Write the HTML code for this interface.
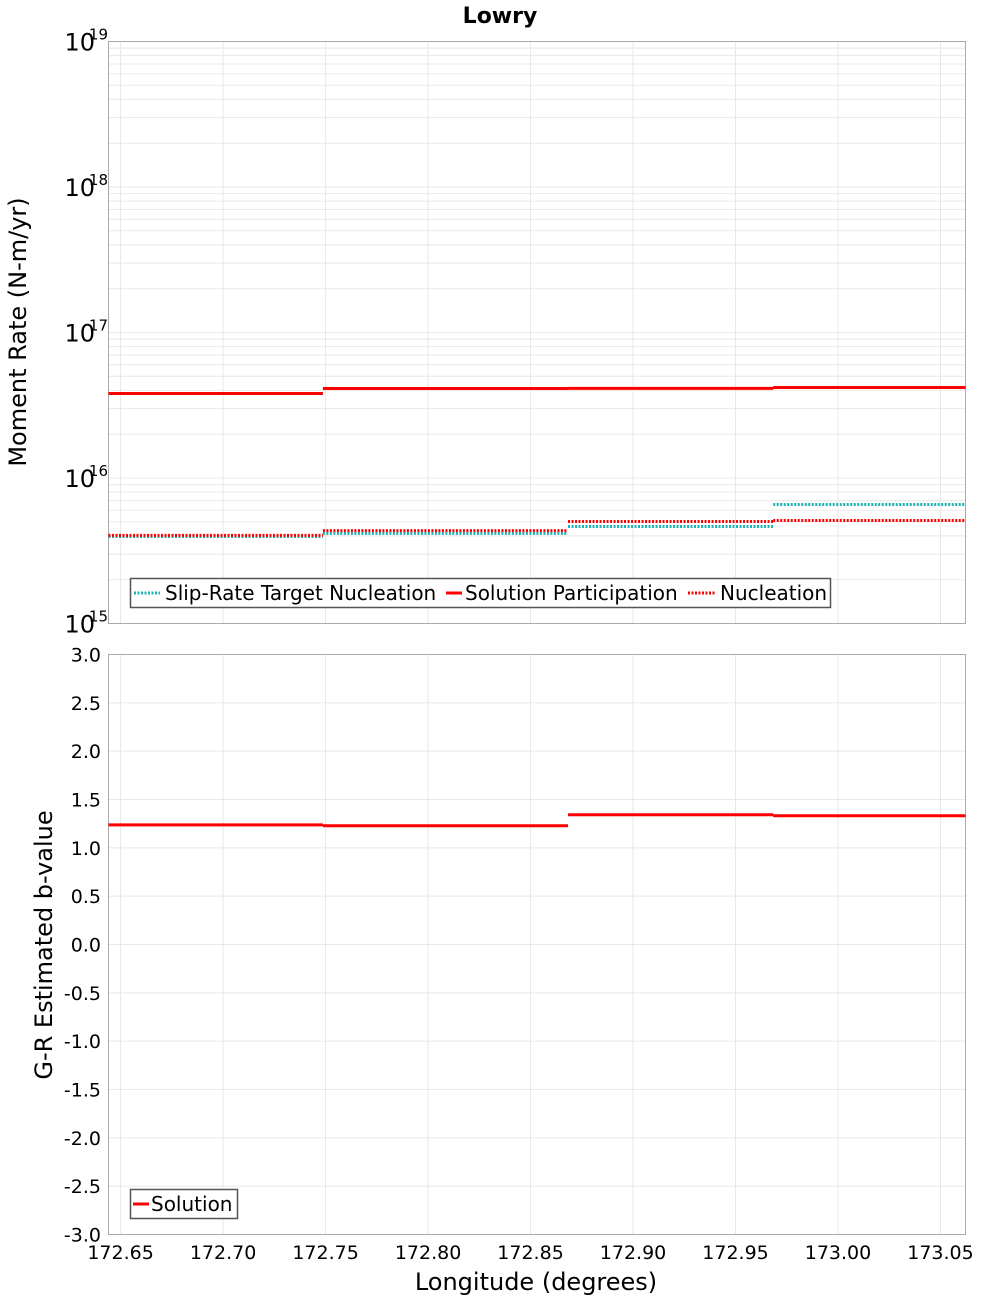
<!DOCTYPE html>
<html><head><meta charset="utf-8"><style>
body{margin:0;background:#fff}
svg{display:block;font-family:"DejaVu Sans","Liberation Sans",sans-serif}
</style></head><body>
<svg id="chart" width="1000" height="1300" viewBox="0 0 1000 1300">
<text x="500" y="23" text-anchor="middle" font-size="22" font-weight="bold">Lowry</text>
<g id="grid1"></g>
<g id="grid2"></g>
<rect x="108.5" y="41.5" width="857" height="582" fill="none" stroke="#aaa"/>
<rect x="108.5" y="654.5" width="857" height="580" fill="none" stroke="#aaa"/>
<g id="series1"></g>
<g id="series2"></g>
<g id="ticks"></g>
<text transform="translate(26,332) rotate(-90)" text-anchor="middle" font-size="24">Moment Rate (N-m/yr)</text>
<text transform="translate(52,945) rotate(-90)" text-anchor="middle" font-size="24">G-R Estimated b-value</text>
<text x="536" y="1290" text-anchor="middle" font-size="24">Longitude (degrees)</text>
<g>
<rect x="130.5" y="578.5" width="700" height="29" fill="#fff" stroke="#555" stroke-width="1.5"/>
<line x1="134" y1="593" x2="160" y2="593" stroke="#1ab3b3" stroke-width="3" stroke-dasharray="2,1.5"/>
<text x="165" y="600" font-size="20">Slip-Rate Target Nucleation</text>
<line x1="446" y1="593" x2="462" y2="593" stroke="#f00" stroke-width="3"/>
<text x="465" y="600" font-size="20">Solution Participation</text>
<line x1="688" y1="593" x2="716" y2="593" stroke="#f00" stroke-width="3" stroke-dasharray="2,1.5"/>
<text x="720" y="600" font-size="20">Nucleation</text>
</g>
<g>
<rect x="130.5" y="1189.5" width="107" height="29" fill="#fff" stroke="#555" stroke-width="1.5"/>
<line x1="133" y1="1204" x2="149" y2="1204" stroke="#f00" stroke-width="3"/>
<text x="151" y="1211" font-size="20">Solution</text>
</g>
</svg>
<script>
const segEdges=[172.6441,172.7487,172.8683,172.9684,173.0622];
const targetNucleation=[3.96e15,4.16e15,4.64e15,6.58e15];
const solutionParticipation=[3.81e16,4.12e16,4.13e16,4.19e16];
const nucleation=[4.03e15,4.35e15,5.02e15,5.1e15];
const bValues=[1.238,1.228,1.342,1.332];
const xTicks=[172.65,172.70,172.75,172.80,172.85,172.90,172.95,173.00,173.05];
const yLogTicks=[15,16,17,18,19];
const bTicks=[3.0,2.5,2.0,1.5,1.0,0.5,0.0,-0.5,-1.0,-1.5,-2.0,-2.5,-3.0];
const NS='http://www.w3.org/2000/svg';
const X0=108.5,X1=965.5,XMIN=segEdges[0],XMAX=segEdges[segEdges.length-1];
const xs=v=>X0+(v-XMIN)/(XMAX-XMIN)*(X1-X0);
const ly=v=>623.5-(Math.log10(v)-15)/4*582;
const by=v=>654.5+(3-v)/6*580;
function mk(tag,attrs,parent){const e=document.createElementNS(NS,tag);for(const k in attrs)e.setAttribute(k,attrs[k]);parent.appendChild(e);return e;}
const g1=document.getElementById('grid1'),g2=document.getElementById('grid2'),tk=document.getElementById('ticks');
xTicks.forEach(t=>{const x=xs(t);
 let l=mk('line',{x1:x,x2:x,y1:41.5,y2:623.5,stroke:'#e8e8e8'},g1);
 
 
 l=mk('line',{x1:x,x2:x,y1:654.5,y2:1234.5,stroke:'#e8e8e8'},g2);
 
 
 const tx=mk('text',{x:x,y:1259,'text-anchor':'middle','font-size':'19'},tk);tx.textContent=t.toFixed(2);
 
 
});
for(let d=15;d<19;d++){for(let m=1;m<10;m++){const y=ly(m*Math.pow(10,d));
 const l=mk('line',{x1:X0,x2:X1,y1:y,y2:y,stroke:'#e8e8e8'},g1);
 
 }}
yLogTicks.forEach(p=>{const y=ly(Math.pow(10,p));
 const t=mk('text',{x:95,y:y+9,'text-anchor':'end','font-size':'24'},tk);t.textContent='10';
 
 
 const s=mk('text',{x:108,y:y-2,'text-anchor':'end','font-size':'15'},tk);s.textContent=String(p);
 
 
});
bTicks.forEach(v=>{const y=by(v);
 const l=mk('line',{x1:X0,x2:X1,y1:y,y2:y,stroke:'#e8e8e8'},g2);
 
 
 const t=mk('text',{x:101,y:y+7,'text-anchor':'end','font-size':'19'},tk);t.textContent=v.toFixed(1);
 
 
});
const s1=document.getElementById('series1'),s2=document.getElementById('series2');
function steps(vals,yf,color,dash,parent,name){let d='';
 vals.forEach((v,i)=>{d+='M'+xs(segEdges[i])+','+yf(v)+'L'+xs(segEdges[i+1])+','+yf(v);});
 const p=mk('path',{d:d,fill:'none',stroke:color,'stroke-width':'3'},parent);
 if(dash)p.setAttribute('stroke-dasharray','2,1.5');
 
 }
steps(targetNucleation,ly,'#1ab3b3',true,s1,'series-target-nucleation');
steps(solutionParticipation,ly,'#f00',false,s1,'series-solution-participation');
steps(nucleation,ly,'#f00',true,s1,'series-nucleation');
steps(bValues,by,'#f00',false,s2,'series-b-value');
</script>
</body></html>
